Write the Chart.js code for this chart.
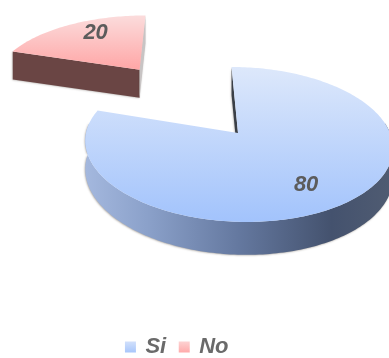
<!DOCTYPE html>
<html>
<head>
<meta charset="utf-8">
<style>
  html, body { margin: 0; padding: 0; background: #fff; }
  #wrap { width: 389px; height: 358px; }
</style>
<script src="https://cdn.jsdelivr.net/npm/chart.js@4"></script>
</head>
<body>
<div id="wrap"><canvas id="chart" width="389" height="358"></canvas></div>
<script>
const categories = ['Si', 'No'];
const values = [80, 20];

// Per-slice colours: top face gradient stops, legend swatch stops, wall stops.
const faceStops = [['#dde8fb', '#a2c3fc'], ['#fbdcdc', '#ffa6a6']];
const swatchStops = [['#d0dffb', '#a6c5fb'], ['#fdd0d0', '#ffa9a9']];
const wallStops = [
  [0, '#a4b8de'], [0.2, '#8ba1ca'], [0.5, '#64789f'], [0.8, '#44526e'], [1, '#505c72']
];
// Radial cut walls: colour at the slice's start and end angle; null where the wall faces away.
const cutWallColors = [['#3a3f47', null], ['#6a4544', '#c8c4c4']];
// Rim radius of each slice in plane units, and label nudges in pixels.
const sliceScale = [1, 1.06];
const labelNudge = [[-7, 4], [5, -5]];

// Oblique camera: maps a point of the pie's plane to the screen.
const camera = { vanishX: 188, baseY: 133, scaleX: 152, scaleY: 75.8, tilt: 0.148, centreU: 0.329, depth: 28 };

function project(u, v, lowered) {
  const w = 1 - camera.tilt * v;
  const drop = lowered ? camera.depth / Math.min(w, 1) : 0;
  return {
    x: camera.vanishX + (u + camera.centreU) * camera.scaleX / w,
    y: camera.baseY + v * camera.scaleY / w + drop
  };
}

// Slice origin in plane units, taken from the arc's own angle and offset option.
function sliceOrigin(arc) {
  const mid = (arc.startAngle + arc.endAngle) / 2;
  const shift = (arc.options.offset || 0) / 4 / arc.outerRadius;
  return { u: Math.cos(mid) * shift, v: Math.sin(mid) * shift };
}

// Sampled rim of an arc; with frontOnly, just the part that faces the viewer.
function rimPoints(arc, scale, lowered, frontOnly) {
  const o = sliceOrigin(arc);
  const pts = [];
  const steps = Math.ceil((arc.endAngle - arc.startAngle) / 0.02);
  for (let i = 0; i <= steps; i++) {
    const a = arc.startAngle + (arc.endAngle - arc.startAngle) * i / steps;
    if (frontOnly && Math.sin(a) < -0.15) continue;
    pts.push(project(o.u + Math.cos(a) * scale, o.v + Math.sin(a) * scale, lowered));
  }
  return pts;
}

function tracePolygon(ctx, pts) {
  ctx.beginPath();
  pts.forEach((p, i) => (i ? ctx.lineTo(p.x, p.y) : ctx.moveTo(p.x, p.y)));
  ctx.closePath();
}

const extrudedPie = {
  id: 'extrudedPie',
  beforeDatasetsDraw(chart) {
    const ctx = chart.ctx;
    const arcs = chart.getDatasetMeta(0).data;
    ctx.save();
    arcs.forEach((arc, idx) => {
      const o = sliceOrigin(arc);
      const top = rimPoints(arc, sliceScale[idx], false, false);
      const low = rimPoints(arc, sliceScale[idx], true, false);
      const apexTop = project(o.u, o.v, false);
      const apexLow = project(o.u, o.v, true);

      // Radial cut walls at both ends of the slice.
      [[top[0], low[0]], [top[top.length - 1], low[low.length - 1]]].forEach(([t, l], end) => {
        if (!cutWallColors[idx][end]) return;
        ctx.save();
        ctx.shadowColor = 'rgba(60,50,40,0.35)';
        ctx.shadowBlur = 2;
        ctx.shadowOffsetX = -0.5;
        ctx.shadowOffsetY = 0.5;
        tracePolygon(ctx, [apexTop, t, l, apexLow]);
        ctx.fillStyle = cutWallColors[idx][end];
        ctx.fill();
        ctx.restore();
      });

      // Outer wall, with a faint edge shadow along the lower rim.
      const frontTop = rimPoints(arc, sliceScale[idx], false, true);
      const frontLow = rimPoints(arc, sliceScale[idx], true, true);
      if (frontLow.length) {
        const xs = frontLow.map(p => p.x);
        const wall = ctx.createLinearGradient(Math.min(...xs), 0, Math.max(...xs), 0);
        wallStops.forEach(([s, c]) => wall.addColorStop(s, c));
        ctx.save();
        ctx.shadowColor = 'rgba(60,50,40,0.45)';
        ctx.shadowBlur = 2;
        ctx.shadowOffsetX = -0.5;
        ctx.shadowOffsetY = 0.5;
        tracePolygon(ctx, frontTop.concat(frontLow.slice().reverse()));
        ctx.fillStyle = wall;
        ctx.fill();
        ctx.restore();
      }

      // Top face.
      const outline = [apexTop].concat(top);
      const ys = outline.map(p => p.y);
      const face = ctx.createLinearGradient(0, Math.min(...ys), 0, Math.max(...ys));
      face.addColorStop(0, faceStops[idx][0]);
      face.addColorStop(1, faceStops[idx][1]);
      tracePolygon(ctx, outline);
      ctx.fillStyle = face;
      ctx.fill();
    });

    // Value labels on the top faces.
    ctx.font = 'italic bold 22px "Liberation Sans", Arial, sans-serif';
    ctx.fillStyle = '#5c5c5c';
    ctx.textAlign = 'center';
    ctx.textBaseline = 'middle';
    arcs.forEach((arc, idx) => {
      const o = sliceOrigin(arc);
      const mid = (arc.startAngle + arc.endAngle) / 2;
      const p = project(o.u + Math.cos(mid) * 0.72, o.v + Math.sin(mid) * 0.72, false);
      ctx.fillText(String(values[idx]), p.x + labelNudge[idx][0], p.y + labelNudge[idx][1]);
    });
    ctx.restore();
    return false;
  }
};

// Slides the finished legend box down and to the left within the page.
const legendPlacement = {
  id: 'legendPlacement',
  afterLayout(chart) {
    const legend = chart.legend;
    legend.top += 10;
    legend.bottom += 10;
    legend.left -= 17;
    legend.right -= 17;
  }
};

const ctx = document.getElementById('chart').getContext('2d');

function swatch(stops) {
  const g = ctx.createLinearGradient(0, 342, 0, 353);
  g.addColorStop(0, stops[0]);
  g.addColorStop(1, stops[1]);
  return g;
}

new Chart(ctx, {
  type: 'pie',
  data: {
    labels: categories,
    datasets: [{
      data: values,
      backgroundColor: swatchStops.map(swatch),
      borderWidth: 0,
      offset: [0, 219]
    }]
  },
  plugins: [extrudedPie, legendPlacement],
  options: {
    responsive: false,
    animation: false,
    rotation: 0,
    plugins: {
      tooltip: { enabled: false },
      legend: {
        position: 'bottom',
        labels: {
          usePointStyle: true,
          pointStyle: 'rect',
          boxWidth: 8,
          boxHeight: 11,
          padding: 14,
          color: '#6a6a6a',
          font: { family: '"Liberation Sans", Arial, sans-serif', size: 22, style: 'italic', weight: 'bold' }
        }
      }
    }
  }
});
</script>
</body>
</html>
